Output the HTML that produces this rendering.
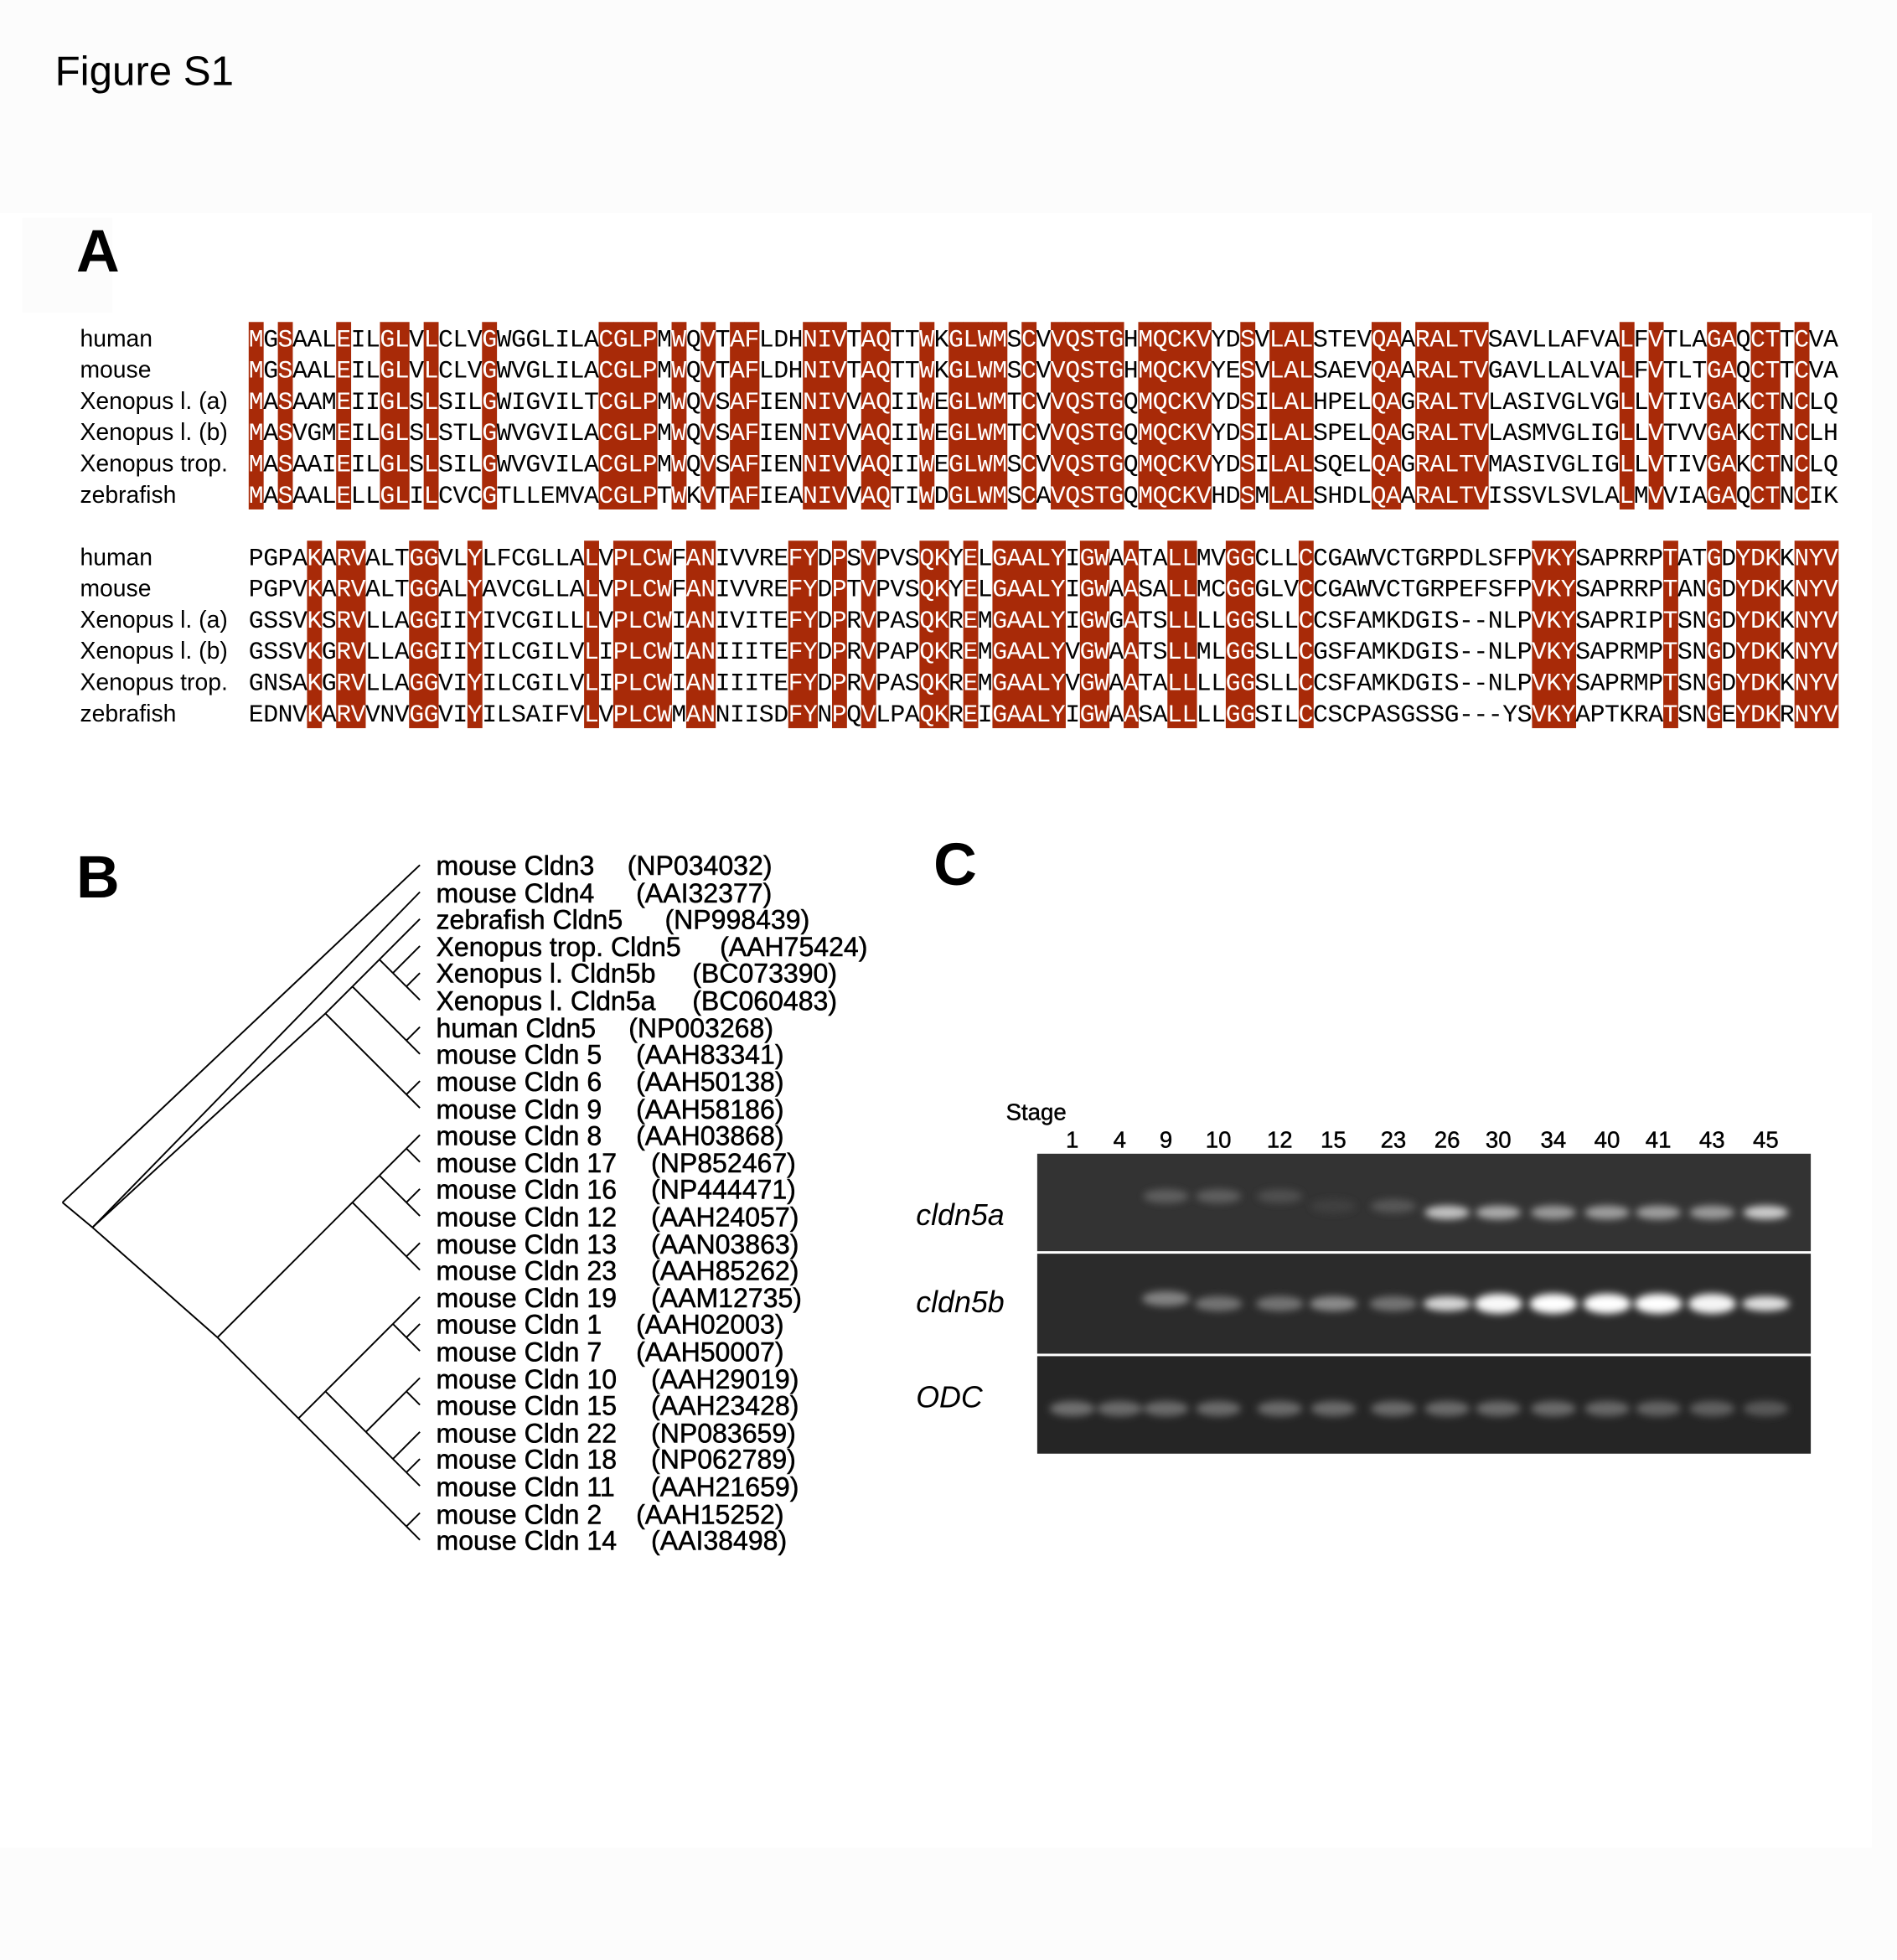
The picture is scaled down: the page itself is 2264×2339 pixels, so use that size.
<!DOCTYPE html>
<html><head><meta charset="utf-8"><style>
html,body{margin:0;padding:0;background:#fcfcfc;}
svg{display:block;}
.lab{font-family:"Liberation Sans",sans-serif;font-size:19px;fill:#000;}
.seq{font-family:"Liberation Mono",monospace;font-size:20px;fill:#000;}
.tl{font-family:"Liberation Sans",sans-serif;font-size:21.5px;fill:#000;stroke:#000;stroke-width:0.35;}
.gn{font-family:"Liberation Sans",sans-serif;font-size:18.5px;fill:#000;stroke:#000;stroke-width:0.3;}
.gi{font-family:"Liberation Sans",sans-serif;font-size:24px;font-style:italic;fill:#000;}
</style></head><body>
<svg id="s" width="2264" height="2339" viewBox="0 0 1518 1568" xmlns="http://www.w3.org/2000/svg">
<defs><filter id="bl" x="-50%" y="-100%" width="200%" height="300%"><feGaussianBlur stdDeviation="3"/></filter></defs>
<rect x="0" y="0" width="1518" height="1568" fill="#fcfcfc"/>
<rect x="0" y="170" width="1498" height="1308" fill="#ffffff"/>
<rect x="18" y="174" width="72" height="76" fill="#fcfcfc"/>
<text x="44" y="68" font-family="Liberation Sans, sans-serif" font-size="33">Figure S1</text>
<text x="61" y="217" font-family="Liberation Sans, sans-serif" font-size="48" font-weight="bold">A</text>
<g id="hl"></g>
<g>
<text class="lab" x="64" y="277">human</text>
<text class="lab" x="64" y="302">mouse</text>
<text class="lab" x="64" y="327">Xenopus l. (a)</text>
<text class="lab" x="64" y="352">Xenopus l. (b)</text>
<text class="lab" x="64" y="377">Xenopus trop.</text>
<text class="lab" x="64" y="402">zebrafish</text>
<text class="lab" x="64" y="452">human</text>
<text class="lab" x="64" y="477">mouse</text>
<text class="lab" x="64" y="502">Xenopus l. (a)</text>
<text class="lab" x="64" y="527">Xenopus l. (b)</text>
<text class="lab" x="64" y="552">Xenopus trop.</text>
<text class="lab" x="64" y="577">zebrafish</text>
</g>
<g id="seqs">
<text class="seq" x="199" y="277" textLength="1272" lengthAdjust="spacing">MGSAALEILGLVLCLVGWGGLILACGLPMWQVTAFLDHNIVTAQTTWKGLWMSCVVQSTGHMQCKVYDSVLALSTEVQAARALTVSAVLLAFVALFVTLAGAQCTTCVA</text>
<text class="seq" x="199" y="302" textLength="1272" lengthAdjust="spacing">MGSAALEILGLVLCLVGWVGLILACGLPMWQVTAFLDHNIVTAQTTWKGLWMSCVVQSTGHMQCKVYESVLALSAEVQAARALTVGAVLLALVALFVTLTGAQCTTCVA</text>
<text class="seq" x="199" y="327" textLength="1272" lengthAdjust="spacing">MASAAMEIIGLSLSILGWIGVILTCGLPMWQVSAFIENNIVVAQIIWEGLWMTCVVQSTGQMQCKVYDSILALHPELQAGRALTVLASIVGLVGLLVTIVGAKCTNCLQ</text>
<text class="seq" x="199" y="352" textLength="1272" lengthAdjust="spacing">MASVGMEILGLSLSTLGWVGVILACGLPMWQVSAFIENNIVVAQIIWEGLWMTCVVQSTGQMQCKVYDSILALSPELQAGRALTVLASMVGLIGLLVTVVGAKCTNCLH</text>
<text class="seq" x="199" y="377" textLength="1272" lengthAdjust="spacing">MASAAIEILGLSLSILGWVGVILACGLPMWQVSAFIENNIVVAQIIWEGLWMSCVVQSTGQMQCKVYDSILALSQELQAGRALTVMASIVGLIGLLVTIVGAKCTNCLQ</text>
<text class="seq" x="199" y="402" textLength="1272" lengthAdjust="spacing">MASAALELLGLILCVCGTLLEMVACGLPTWKVTAFIEANIVVAQTIWDGLWMSCAVQSTGQMQCKVHDSMLALSHDLQAARALTVISSVLSVLALMVVIAGAQCTNCIK</text>
<text class="seq" x="199" y="452" textLength="1272" lengthAdjust="spacing">PGPAKARVALTGGVLYLFCGLLALVPLCWFANIVVREFYDPSVPVSQKYELGAALYIGWAATALLMVGGCLLCCGAWVCTGRPDLSFPVKYSAPRRPTATGDYDKKNYV</text>
<text class="seq" x="199" y="477" textLength="1272" lengthAdjust="spacing">PGPVKARVALTGGALYAVCGLLALVPLCWFANIVVREFYDPTVPVSQKYELGAALYIGWAASALLMCGGGLVCCGAWVCTGRPEFSFPVKYSAPRRPTANGDYDKKNYV</text>
<text class="seq" x="199" y="502" textLength="1272" lengthAdjust="spacing">GSSVKSRVLLAGGIIYIVCGILLLVPLCWIANIVITEFYDPRVPASQKREMGAALYIGWGATSLLLLGGSLLCCSFAMKDGIS--NLPVKYSAPRIPTSNGDYDKKNYV</text>
<text class="seq" x="199" y="527" textLength="1272" lengthAdjust="spacing">GSSVKGRVLLAGGIIYILCGILVLIPLCWIANIIITEFYDPRVPAPQKREMGAALYVGWAATSLLMLGGSLLCGSFAMKDGIS--NLPVKYSAPRMPTSNGDYDKKNYV</text>
<text class="seq" x="199" y="552" textLength="1272" lengthAdjust="spacing">GNSAKGRVLLAGGVIYILCGILVLIPLCWIANIIITEFYDPRVPASQKREMGAALYVGWAATALLLLGGSLLCCSFAMKDGIS--NLPVKYSAPRMPTSNGDYDKKNYV</text>
<text class="seq" x="199" y="577" textLength="1272" lengthAdjust="spacing">EDNVKARVVNVGGVIYILSAIFVLVPLCWMANNIISDFYNPQVLPAQKREIGAALYIGWAASALLLLGGSILCCSCPASGSSG---YSVKYAPTKRATSNGEYDKRNYV</text>
</g>

<text x="61" y="718" font-family="Liberation Sans, sans-serif" font-size="48" font-weight="bold">B</text>
<g id="tree" stroke="#000" stroke-width="1.3" fill="none"></g>
<g class="tl">
<text x="349" y="700">mouse Cldn3</text><text x="502" y="700">(NP034032)</text>
<text x="349" y="722">mouse Cldn4</text><text x="509" y="722">(AAI32377)</text>
<text x="349" y="743">zebrafish Cldn5</text><text x="532" y="743">(NP998439)</text>
<text x="349" y="765">Xenopus trop. Cldn5</text><text x="576" y="765">(AAH75424)</text>
<text x="349" y="786">Xenopus l. Cldn5b</text><text x="554" y="786">(BC073390)</text>
<text x="349" y="808">Xenopus l. Cldn5a</text><text x="554" y="808">(BC060483)</text>
<text x="349" y="830">human Cldn5</text><text x="503" y="830">(NP003268)</text>
<text x="349" y="851">mouse Cldn 5</text><text x="509" y="851">(AAH83341)</text>
<text x="349" y="873">mouse Cldn 6</text><text x="509" y="873">(AAH50138)</text>
<text x="349" y="895">mouse Cldn 9</text><text x="509" y="895">(AAH58186)</text>
<text x="349" y="916">mouse Cldn 8</text><text x="509" y="916">(AAH03868)</text>
<text x="349" y="938">mouse Cldn 17</text><text x="521" y="938">(NP852467)</text>
<text x="349" y="959">mouse Cldn 16</text><text x="521" y="959">(NP444471)</text>
<text x="349" y="981">mouse Cldn 12</text><text x="521" y="981">(AAH24057)</text>
<text x="349" y="1003">mouse Cldn 13</text><text x="521" y="1003">(AAN03863)</text>
<text x="349" y="1024">mouse Cldn 23</text><text x="521" y="1024">(AAH85262)</text>
<text x="349" y="1046">mouse Cldn 19</text><text x="521" y="1046">(AAM12735)</text>
<text x="349" y="1067">mouse Cldn 1</text><text x="509" y="1067">(AAH02003)</text>
<text x="349" y="1089">mouse Cldn 7</text><text x="509" y="1089">(AAH50007)</text>
<text x="349" y="1111">mouse Cldn 10</text><text x="521" y="1111">(AAH29019)</text>
<text x="349" y="1132">mouse Cldn 15</text><text x="521" y="1132">(AAH23428)</text>
<text x="349" y="1154">mouse Cldn 22</text><text x="521" y="1154">(NP083659)</text>
<text x="349" y="1175">mouse Cldn 18</text><text x="521" y="1175">(NP062789)</text>
<text x="349" y="1197">mouse Cldn 11</text><text x="521" y="1197">(AAH21659)</text>
<text x="349" y="1219">mouse Cldn 2</text><text x="509" y="1219">(AAH15252)</text>
<text x="349" y="1240">mouse Cldn 14</text><text x="521" y="1240">(AAI38498)</text>
</g>

<text x="747" y="708" font-family="Liberation Sans, sans-serif" font-size="48" font-weight="bold">C</text>
<text class="gn" x="805" y="896">Stage</text>
<g class="gn" text-anchor="middle">
<text x="858" y="918">1</text><text x="896" y="918">4</text><text x="933" y="918">9</text><text x="975" y="918">10</text><text x="1024" y="918">12</text><text x="1067" y="918">15</text><text x="1115" y="918">23</text><text x="1158" y="918">26</text><text x="1199" y="918">30</text><text x="1243" y="918">34</text><text x="1286" y="918">40</text><text x="1327" y="918">41</text><text x="1370" y="918">43</text><text x="1413" y="918">45</text>
</g>
<rect x="830" y="923" width="619" height="240" fill="#fff"/>
<rect x="830" y="923" width="619" height="78" fill="#333"/>
<rect x="830" y="1003" width="619" height="80" fill="#2b2b2b"/>
<rect x="830" y="1085" width="619" height="78" fill="#252525"/>
<g id="bands" filter="url(#bl)"></g>
<text class="gi" x="733" y="980">cldn5a</text>
<text class="gi" x="733" y="1050">cldn5b</text>
<text class="gi" x="733" y="1126">ODC</text>
</svg>
<script>
(function(){
var NS="http://www.w3.org/2000/svg";
function el(t,a,p){var e=document.createElementNS(NS,t);for(var k in a)e.setAttribute(k,a[k]);p.appendChild(e);return e;}
var texts=document.querySelectorAll('#seqs text');
var blocks=[[0,1,2,3,4,5],[6,7,8,9,10,11]];
var cw=1272/109, hl=document.getElementById('hl');
blocks.forEach(function(b,bi){
  var seqs=b.map(function(i){return texts[i].textContent;});
  var top0=bi?432.5:257.5;
  var cons=[];
  for(var c=0;c<109;c++){
    var ch=seqs[0][c],ok=ch!=='-';
    for(var r=1;r<6;r++) if(seqs[r][c]!==ch) ok=false;
    cons.push(ok);
    if(ok) el('rect',{x:199+c*cw,y:top0,width:cw+0.3,height:150,fill:'#a82a08'},hl);
  }
  b.forEach(function(i){
    var t=texts[i],s=t.textContent;t.textContent='';
    var j=0;
    while(j<s.length){var k=j;while(k<s.length&&cons[k]===cons[j])k++;
      el('tspan',{fill:cons[j]?'#fff':'#000'},t).textContent=s.slice(j,k);j=k;}
  });
});
var tr=document.getElementById('tree');
function Y(i){return 692+21.6*i;}
var TX=336;
function N(a,b){return {x:TX-(Y(b)-Y(a))/2,y:(Y(a)+Y(b))/2};}
function T(i){return {x:TX,y:Y(i)};}
function L(p,q){el('line',{x1:p.x,y1:p.y,x2:q.x,y2:q.y},tr);}
var R={x:50,y:962},N1={x:74,y:982};
L(R,T(0));L(R,N1);L(N1,T(1));
var A=N(2,9),N2=N(10,25);L(N1,A);L(N1,N2);
var B=N(2,7),C=N(8,9);L(A,B);L(A,C);
var D=N(2,5),E=N(6,7);L(B,D);L(B,E);
var F=N(3,5);L(D,T(2));L(D,F);
var G=N(4,5);L(F,T(3));L(F,G);L(G,T(4));L(G,T(5));
L(E,T(6));L(E,T(7));L(C,T(8));L(C,T(9));
var H=N(10,15),I=N(16,25);L(N2,H);L(N2,I);
var J=N(10,13),K=N(14,15);L(H,J);L(H,K);
var Ll=N(10,11),M=N(12,13);L(J,Ll);L(J,M);
L(Ll,T(10));L(Ll,T(11));L(M,T(12));L(M,T(13));L(K,T(14));L(K,T(15));
var P=N(16,23),Q=N(24,25);L(I,P);L(I,Q);
var S=N(16,18),U=N(19,23);L(P,S);L(P,U);
var V=N(17,18);L(S,T(16));L(S,V);L(V,T(17));L(V,T(18));
var W=N(19,20),X=N(21,23);L(U,W);L(U,X);L(W,T(19));L(W,T(20));
var Yy=N(22,23);L(X,T(21));L(X,Yy);L(Yy,T(22));L(Yy,T(23));
L(Q,T(24));L(Q,T(25));
var bd=document.getElementById('bands');
var lx=[858,896,933,975,1024,1067,1115,1158,1199,1243,1286,1327,1370,1413];
var a5=[0,0,.2,.2,.12,.05,.16,.7,.58,.5,.52,.52,.5,.75];
var b5=[0,0,.38,.3,.3,.42,.3,.8,.97,1,1,1,.95,.85];
var od=[.28,.26,.26,.26,.26,.26,.26,.26,.26,.26,.24,.22,.21,.17];
function g(v){var c=Math.round(55+200*v);return 'rgb('+c+','+c+','+c+')';}
lx.forEach(function(x,i){
  if(a5[i]>0)el('ellipse',{cx:x,cy:i<7?(i<5?957:965):970,rx:18,ry:5.5,fill:g(a5[i])},bd);
  if(b5[i]>0)el('ellipse',{cx:x,cy:i<3?1039:1043,rx:19,ry:b5[i]>.9?8:6,fill:g(b5[i])},bd);
  el('ellipse',{cx:x,cy:1127,rx:18,ry:6,fill:g(od[i])},bd);
});
})();
</script>
</body></html>
